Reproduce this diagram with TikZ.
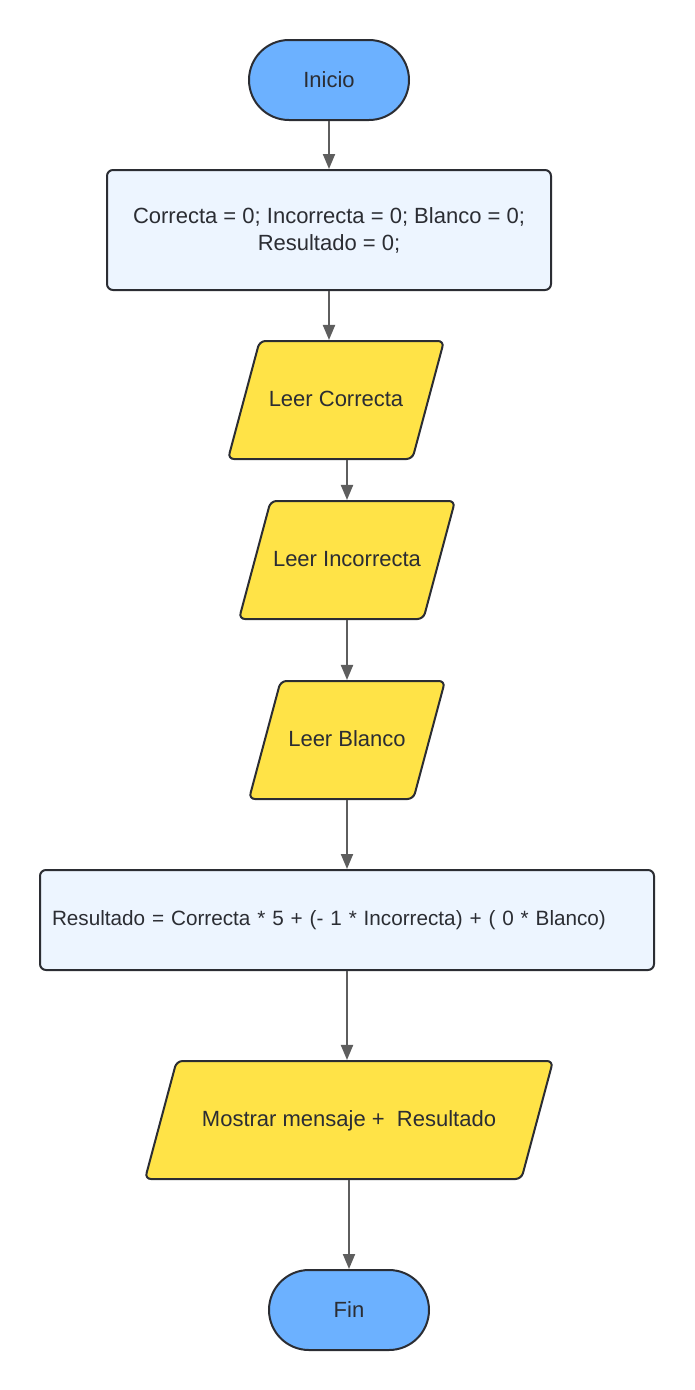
\documentclass[tikz,border=0pt]{standalone}
\usepackage{fontspec}
\setmainfont{Liberation Sans}
\usetikzlibrary{arrows.meta, shapes.geometric, positioning}
\definecolor{startblue}{HTML}{6CB1FF}
\definecolor{boxblue}{HTML}{EDF5FF}
\definecolor{ioyellow}{HTML}{FFE347}
\definecolor{edgedark}{HTML}{2B2D33}
\definecolor{linkgray}{HTML}{5E5E5E}
\tikzset{> = { Triangle[length = 15pt, width = 12pt] }}

\begin{document}
\begin{tikzpicture}[->, x = 1pt, y = -1pt, line width = 2pt,
		font = \fontsize{22pt}{27pt}\selectfont,
		terminal/.style = { draw = edgedark, fill = startblue, text = edgedark, rectangle, rounded corners = 40pt, minimum width = 160pt, minimum height = 80pt },
		process/.style = { draw = edgedark, fill = boxblue, text = edgedark, rectangle, rounded corners = 6pt, minimum height = 120pt },
		% height fixed by the text box so the slant stays at 75 degrees
		io/.style = { draw = edgedark, fill = ioyellow, text = edgedark, trapezium, trapezium left angle = 75, trapezium right angle = 105, trapezium stretches body, rounded corners = 6pt, text height = 16pt, text depth = 4pt, inner ysep = 49pt, inner xsep = 0pt }]
		\useasboundingbox (0,0) rectangle (694,1390);

		\node [terminal] (inicio) at (329,80) {Inicio};
		\node [process, minimum width = 444pt, align = center] (init) at (329,230) {Correcta = 0; Incorrecta = 0; Blanco = 0;\\Resultado = 0;};
		\node [io, minimum width = 216pt] (readC) at (336,400) {Leer Correcta};
		\node [io, minimum width = 216pt] (readI) at (347,560) {Leer Incorrecta};
		\node [io, minimum width = 196pt] (readB) at (347,740) {Leer Blanco};
		\node [process, minimum height = 100pt, text width = 590pt, inner xsep = 12pt, align = left, font = \fontsize{20.7pt}{26pt}\selectfont] (calc) at (347,920) {Resultado = Correcta * 5 + (- 1 * Incorrecta) + ( 0 * Blanco)};
		\node [io, minimum width = 408pt] (show) at (349,1120) {Mostrar mensaje + \ Resultado};
		\node [terminal] (fin) at (349,1310) {Fin};

		\draw [linkgray] (inicio) -- (init);
		\draw [linkgray] (init.south) -- (init.south |- readC.north);
		\draw [linkgray] (readC.south -| readI) -- (readI.north -| readI);
		\draw [linkgray] (readI.south -| readB) -- (readB.north -| readB);
		\draw [linkgray] (readB.south -| calc) -- (calc.north);
		\draw [linkgray] (calc.south) -- (calc.south |- show.north);
		\draw [linkgray] (show.south -| fin) -- (fin.north);
	\end{tikzpicture}
\end{document}
